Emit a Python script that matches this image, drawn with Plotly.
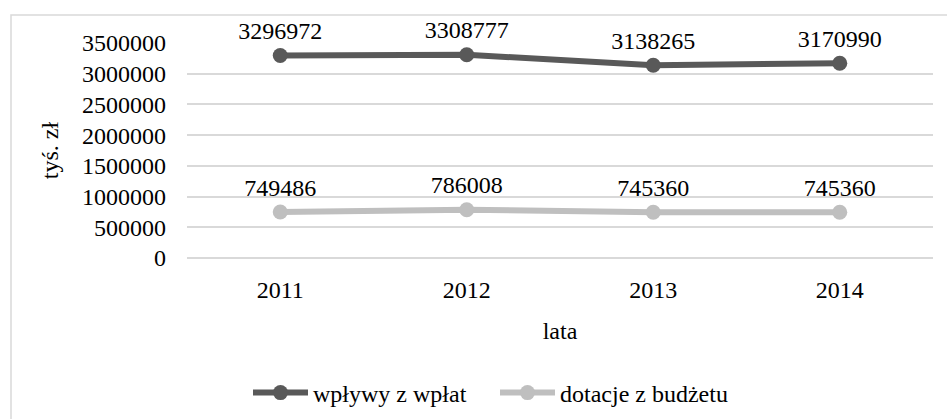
import plotly.graph_objects as go

years = ["2011", "2012", "2013", "2014"]
wplaty = [3296972, 3308777, 3138265, 3170990]
dotacje = [749486, 786008, 745360, 745360]
y_ticks = [0, 500000, 1000000, 1500000, 2000000, 2500000, 3000000, 3500000]

FONT = "'Liberation Serif', 'Times New Roman', 'DejaVu Serif', serif"
FS = 24

fig = go.Figure()
fig.add_trace(go.Scatter(
    x=years, y=wplaty, name="wpływy z wpłat", mode="lines+markers+text",
    line=dict(color="#595959", width=6), marker=dict(size=15, color="#595959"),
    text=[str(v) for v in wplaty], textposition="top center",
    textfont=dict(family=FONT, size=FS, color="#000000"), cliponaxis=False,
))
fig.add_trace(go.Scatter(
    x=years, y=dotacje, name="dotacje z budżetu", mode="lines+markers+text",
    line=dict(color="#BFBFBF", width=6), marker=dict(size=15, color="#BFBFBF"),
    text=[str(v) for v in dotacje], textposition="top center",
    textfont=dict(family=FONT, size=FS, color="#000000"), cliponaxis=False,
))

fig.update_layout(
    template="none",
    width=947, height=419,
    margin=dict(l=187, r=14, t=43, b=161, autoexpand=False),
    paper_bgcolor="white", plot_bgcolor="white",
    font=dict(family=FONT, size=FS, color="#000000"),
    showlegend=True,
    legend=dict(orientation="h", x=(248 - 187) / 746, xanchor="left", y=-0.628, yanchor="middle",
                font=dict(family=FONT, size=FS), itemwidth=55, tracegroupgap=0,
                entrywidth=177, entrywidthmode="pixels",
                bgcolor="rgba(0,0,0,0)"),
    xaxis=dict(type="category", range=[-0.5, 3.5], showgrid=False, zeroline=False,
               showline=False, ticks="", ticklabelstandoff=15, automargin=False,
               title=dict(text="lata", font=dict(family=FONT, size=FS), standoff=20)),
    yaxis=dict(range=[0, 3500000], tickvals=y_ticks, ticktext=[str(v) for v in y_ticks],
               showgrid=True, gridcolor="#D9D9D9", gridwidth=1.5,
               zeroline=True, zerolinecolor="#D9D9D9", zerolinewidth=1.5,
               showline=False, ticks="", ticklabelstandoff=20, automargin=False,
               title=dict(text="tyś. zł", font=dict(family=FONT, size=FS), standoff=16)),
    shapes=[dict(type="rect", xref="paper", yref="paper",
                 x0=(11 - 187) / 746, x1=1.2, y0=-1.0, y1=(258 - 15) / 215,
                 line=dict(color="#D9D9D9", width=1.5), fillcolor="rgba(0,0,0,0)", layer="below")],
)

fig.write_html("out.html", config={"displayModeBar": False},
               post_script="document.body.style.margin='0';document.documentElement.style.margin='0';")
